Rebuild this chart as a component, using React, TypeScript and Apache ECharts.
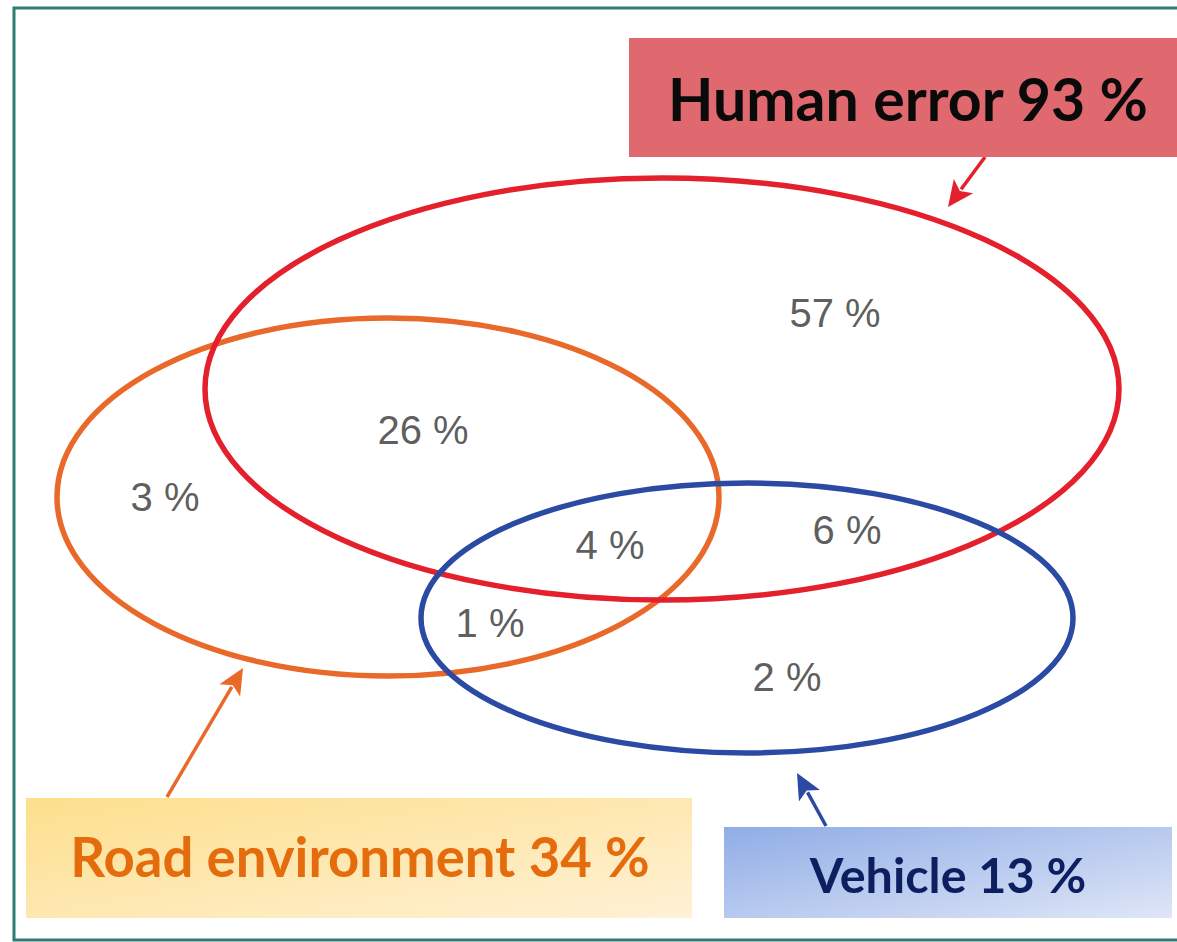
import React, { useEffect, useRef } from "react";
import * as echarts from "echarts";

// ---- data ----
const setNames = ["Human error", "Road environment", "Vehicle"];
const setTotals = [93, 34, 13];
const regionNames = [
  "Human only",
  "Human + Road",
  "Road only",
  "Human + Road + Vehicle",
  "Human + Vehicle",
  "Road + Vehicle",
  "Vehicle only",
];
const regionValues = [57, 26, 3, 4, 6, 1, 2];

// ---- layout (pixel space of the hidden axes) ----
const W = 1177;
const H = 942;
// [cx, cy, rx, ry] per set, same order as setNames
const ellipseGeom = [
  [662, 389, 457, 211],
  [388, 497, 331, 179],
  [747, 618, 326, 135],
];
const setColors = ["#e3202c", "#e9692a", "#2b4aa3"];
const regionAnchors = [
  [835, 313],
  [423, 430],
  [165, 497],
  [610, 545],
  [847, 530],
  [490, 623],
  [787, 677],
];

function arrow(x1: number, y1: number, x2: number, y2: number, color: string) {
  const dx = x2 - x1;
  const dy = y2 - y1;
  const len = Math.sqrt(dx * dx + dy * dy);
  const ux = dx / len;
  const uy = dy / len;
  const headLen = 26;
  const headW = 12;
  const bx = x2 - ux * headLen;
  const by = y2 - uy * headLen;
  const px = -uy;
  const py = ux;
  return {
    type: "group",
    children: [
      {
        type: "line",
        shape: { x1, y1, x2: bx + ux * 4, y2: by + uy * 4 },
        style: { stroke: color, lineWidth: 3.5 },
      },
      {
        type: "polygon",
        shape: {
          points: [
            [x2, y2],
            [bx + px * headW, by + py * headW],
            [bx + ux * 6, by + uy * 6],
            [bx - px * headW, by - py * headW],
          ],
        },
        style: { fill: color },
      },
    ],
  };
}

export default function App() {
  const ref = useRef<HTMLDivElement>(null);
  useEffect(() => {
    if (!ref.current) return;
    const chart = echarts.init(ref.current, null, { renderer: "svg" });
    const boxFont = "Lato, 'Open Sans', sans-serif";
    const option: any = {
      animation: false,
      backgroundColor: "#ffffff",
      grid: { left: 0, top: 0, right: 0, bottom: 0 },
      xAxis: { type: "value", min: 0, max: W, show: false },
      yAxis: { type: "value", min: 0, max: H, inverse: true, show: false },
      graphic: [
        // frame
        {
          type: "polyline",
          shape: { points: [[1177, 8], [14, 8], [14, 940], [1177, 940]] },
          style: { stroke: "#2f7d72", lineWidth: 3, fill: "none" },
          z: 10,
        },
        // Human error box
        {
          type: "rect",
          shape: { x: 629, y: 38, width: 548, height: 119 },
          style: { fill: "#e0686f" },
          z: 5,
        },
        {
          type: "text",
          style: {
            text: `${setNames[0]} ${setTotals[0]} %`,
            x: 908,
            y: 98,
            textAlign: "center",
            textVerticalAlign: "middle",
            fontFamily: boxFont,
            fontWeight: "bold",
            fontSize: 59,
            fill: "#0a0a0a",
          },
          z: 6,
        },
        // Road environment box
        {
          type: "rect",
          shape: { x: 26, y: 798, width: 666, height: 120 },
          style: {
            fill: new echarts.graphic.LinearGradient(0, 0, 1, 1, [
              { offset: 0, color: "#fddf8c" },
              { offset: 1, color: "#fff1d6" },
            ]),
          },
          z: 5,
        },
        {
          type: "text",
          style: {
            text: `${setNames[1]} ${setTotals[1]} %`,
            x: 360,
            y: 856,
            textAlign: "center",
            textVerticalAlign: "middle",
            fontFamily: boxFont,
            fontWeight: "bold",
            fontSize: 54.5,
            fill: "#e46c0c",
          },
          z: 6,
        },
        // Vehicle box
        {
          type: "rect",
          shape: { x: 724, y: 827, width: 448, height: 91 },
          style: {
            fill: new echarts.graphic.LinearGradient(0, 0, 1, 1, [
              { offset: 0, color: "#90ade6" },
              { offset: 1, color: "#dfe6f7" },
            ]),
          },
          z: 5,
        },
        {
          type: "text",
          style: {
            text: `${setNames[2]} ${setTotals[2]} %`,
            x: 948,
            y: 874,
            textAlign: "center",
            textVerticalAlign: "middle",
            fontFamily: boxFont,
            fontWeight: "bold",
            fontSize: 48.5,
            fill: "#0c1f5e",
          },
          z: 6,
        },
        // arrows
        { ...arrow(985, 157, 948, 207, "#e3202c"), z: 7 },
        { ...arrow(167, 797, 243, 668, "#e9692a"), z: 7 },
        { ...arrow(826, 826, 797, 773, "#2b4aa3"), z: 7 },
      ],
      series: [
        {
          type: "custom",
          coordinateSystem: "cartesian2d",
          data: [1, 0, 2].map((i) => ({
            name: setNames[i],
            value: [...ellipseGeom[i], i],
          })),
          encode: { x: 0, y: 1 },
          renderItem: (params: any, api: any) => {
            const c = api.coord([api.value(0), api.value(1)]);
            const s = api.size([api.value(2), api.value(3)]);
            const idx = api.value(4);
            return {
              type: "ellipse",
              shape: { cx: c[0], cy: c[1], rx: s[0], ry: s[1] },
              style: { fill: "none", stroke: setColors[idx], lineWidth: 5.5 },
            };
          },
          z: 2,
        },
        {
          type: "scatter",
          symbolSize: 0,
          data: regionValues.map((v, i) => ({
            name: regionNames[i],
            value: [regionAnchors[i][0], regionAnchors[i][1], v],
          })),
          label: {
            show: true,
            position: "inside",
            formatter: (p: any) => `${p.value[2]} %`,
            fontFamily: "'Liberation Sans Narrow', 'Liberation Sans', Arial, sans-serif",
            fontSize: 40,
            color: "#333333",
          },
          z: 3,
        },
      ],
    };
    chart.setOption(option);
    return () => chart.dispose();
  }, []);
  return (
    <div
      ref={ref}
      style={{ position: "absolute", left: 0, top: 0, width: W, height: H, background: "#fff" }}
    />
  );
}
